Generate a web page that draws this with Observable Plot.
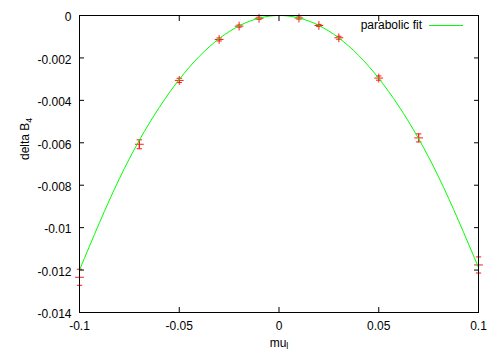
<!DOCTYPE html>
<html>
<head>
<meta charset="utf-8">
<script src="https://cdn.jsdelivr.net/npm/d3@7"></script>
<script src="https://cdn.jsdelivr.net/npm/@observablehq/plot@0.6"></script>
<style>
  html, body { margin: 0; padding: 0; background: #fff; }
  #chart { width: 500px; height: 350px; }
</style>
</head>
<body>
<div id="chart"></div>
<script>
// ---- data ----
const muValues   = [-0.1, -0.07, -0.05, -0.03, -0.02, -0.01, 0.01, 0.02, 0.03, 0.05, 0.07, 0.1];
const deltaB4    = [-0.01234, -0.00607, -0.00306, -0.00113, -0.00050, -0.00013, -0.00012, -0.00047, -0.00105, -0.00295, -0.00577, -0.01176];
const deltaB4Err = [0.00038, 0.00021, 0.00010, 0.00007, 0.00005, 0.00005, 0.00005, 0.00005, 0.00007, 0.00010, 0.00019, 0.00038];

// parabolic fit curve, read at regular mu positions
const fitMu      = [-0.1, -0.08, -0.06, -0.04, -0.02, 0, 0.02, 0.04, 0.06, 0.08, 0.1];
const fitDeltaB4 = [-0.01200, -0.00769, -0.00433, -0.00193, -0.00049, 0, -0.00047, -0.00189, -0.00427, -0.00761, -0.01188];

const xTicks = [-0.1, -0.05, 0, 0.05, 0.1];
const yTicks = [0, -0.002, -0.004, -0.006, -0.008, -0.01, -0.012, -0.014];

const xLabel = "mu";
const xLabelSub = "l";
const yLabel = "delta B";
const yLabelSub = "4";
const fitLabel = "parabolic fit";

// ---- build ----
const points = muValues.map((x, i) => ({x, y: deltaB4[i], e: deltaB4Err[i]}));
const fit = fitMu.map((x, i) => ({x, y: fitDeltaB4[i]}));

const RED = "#ff1a1a";
const GREEN = "#00ff00";

const plusSym = {draw(ctx, size) { const r = Math.sqrt(size / Math.PI); ctx.moveTo(-r, 0); ctx.lineTo(r, 0); ctx.moveTo(0, -r); ctx.lineTo(0, r); }};
const capSym = {draw(ctx, size) { const r = Math.sqrt(size / Math.PI); ctx.moveTo(-r, 0); ctx.lineTo(r, 0); }};

const fmt = d => String(+(+d).toFixed(3));

const chart = Plot.plot({
  width: 500,
  height: 350,
  marginLeft: 79,
  marginRight: 22,
  marginTop: 15,
  marginBottom: 38,
  style: {fontFamily: "'Liberation Sans', Arial, sans-serif", fontSize: "12px", color: "#000", background: "#fff", overflow: "visible"},
  x: {domain: [-0.1, 0.1]},
  y: {domain: [-0.014, 0]},
  marks: [
    Plot.ruleX(points, {x: "x", y1: d => d.y - d.e, y2: d => d.y + d.e, stroke: RED, strokeWidth: 1}),
    Plot.dot(points, {x: "x", y: d => d.y - d.e, symbol: capSym, r: 2.7, stroke: RED, fill: "none", strokeWidth: 1}),
    Plot.dot(points, {x: "x", y: d => d.y + d.e, symbol: capSym, r: 2.7, stroke: RED, fill: "none", strokeWidth: 1}),
    Plot.dot(points, {x: "x", y: "y", symbol: plusSym, r: 4.4, stroke: RED, fill: "none", strokeWidth: 1}),
    Plot.line(fit, {x: "x", y: "y", curve: "natural", stroke: GREEN, strokeWidth: 1}),
    Plot.frame({stroke: "#000"}),
    // inward ticks on all four sides
    Plot.axisY(yTicks, {anchor: "left", tickSize: -5, fill: "none", label: null}),
    Plot.axisY(yTicks, {anchor: "right", tickSize: -5, fill: "none", label: null}),
    Plot.axisX(xTicks, {anchor: "bottom", tickSize: -5, fill: "none", label: null}),
    Plot.axisX(xTicks, {anchor: "top", tickSize: -5, fill: "none", label: null}),
    // tick labels
    Plot.axisY(yTicks, {anchor: "left", tickSize: -5, tickPadding: 13, stroke: "none", fill: "#000", tickFormat: fmt, dy: 2, label: null}),
    Plot.axisX(xTicks, {anchor: "bottom", tickSize: -5, tickPadding: 14, stroke: "none", fill: "#000", tickFormat: fmt, label: null}),
    // axis titles
    Plot.text([yLabel], {frameAnchor: "left", rotate: -90, dx: -54, dy: -4, fill: "#000"}),
    Plot.text([xLabel], {frameAnchor: "bottom", lineAnchor: "bottom", dy: 34, fill: "#000"})
  ]
});

document.getElementById("chart").appendChild(chart);

// subscripts in axis titles
d3.select(chart).selectAll("text").each(function() {
  if (this.textContent === yLabel) {
    d3.select(this).append("tspan").attr("dy", 3).attr("font-size", 9).text(yLabelSub);
  } else if (this.textContent === xLabel) {
    d3.select(this).append("tspan").attr("dy", 2).attr("font-size", 9).text(xLabelSub);
  }
});

// key (legend) inside the plot, top right
const key = d3.select(chart).append("g").attr("class", "key");
key.append("text").attr("x", 422).attr("y", 29).attr("text-anchor", "end").attr("fill", "#000").text(fitLabel);
key.append("line").attr("x1", 429).attr("x2", 463).attr("y1", 25.5).attr("y2", 25.5).attr("stroke", GREEN).attr("stroke-width", 1);
</script>
</body>
</html>
